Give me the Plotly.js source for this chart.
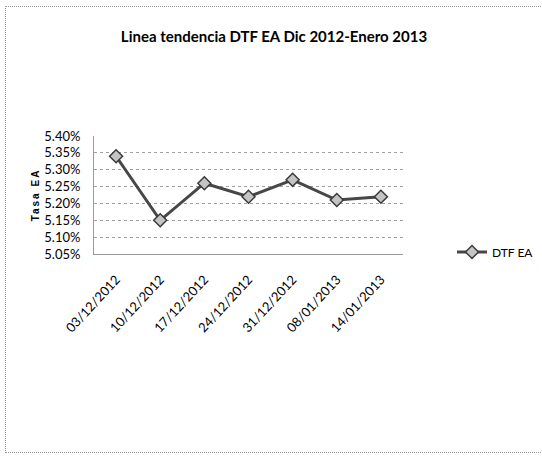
<!DOCTYPE html>
<html><head><meta charset="utf-8">
<script src="https://cdn.plot.ly/plotly-3.0.1.min.js"></script>
<style>
html,body{margin:0;padding:0;background:#fff;}
#frame{position:absolute;left:5px;top:6px;width:540px;height:447px;border:1px dotted #999;border-right:none;box-sizing:border-box;pointer-events:none;z-index:5;}
#chart{width:542px;height:456px;}
.ytitle{letter-spacing:2px;}
</style>
</head><body>
<div id="frame"></div>
<div id="chart"></div>
<script>
const categories = ["03/12/2012","10/12/2012","17/12/2012","24/12/2012","31/12/2012","08/01/2013","14/01/2013"];
const dtfEA = [0.0534, 0.0515, 0.0526, 0.0522, 0.0527, 0.0521, 0.0522];
const seriesName = "DTF EA";

const fontFam = "Lato, 'Open Sans', sans-serif";
const trace = {
  x: categories, y: dtfEA, name: seriesName, type: 'scatter', mode: 'lines+markers',
  line: {color: '#474747', width: 3},
  marker: {symbol: 'diamond', size: 10, color: '#c4c4c4', line: {color: '#3a3a3a', width: 1.5}},
  showlegend: true
};
const layout = {
  width: 542, height: 456,
  margin: {l: 94, r: 139, t: 136, b: 202, autoexpand: false},
  paper_bgcolor: '#fff', plot_bgcolor: '#fff',
  title: {text: 'Linea tendencia DTF EA Dic 2012-Enero 2013', x: 274/542, xref: 'container', xanchor: 'center', y: 1 - 37/456, yref: 'container', yanchor: 'middle',
          font: {family: fontFam, size: 15, color: '#000', weight: 'bold'}},
  xaxis: {type: 'category', range: [-0.5, 6.5], tickangle: -47, showgrid: false,
          showline: true, linecolor: '#9a9a9a', linewidth: 1, ticks: '', ticklabelstandoff: 12,
          tickfont: {family: fontFam, size: 13, color: '#000'}, zeroline: false},
  yaxis: {range: [0.0505, 0.054], dtick: 0.0005, tick0: 0.0505, tickformat: '.2%',
          showgrid: true, gridcolor: '#a0a0a0', griddash: 'dot', gridwidth: 1,
          showline: true, linecolor: '#9a9a9a', linewidth: 1, ticks: '', ticklabelstandoff: 10,
          zeroline: false, tickfont: {family: fontFam, size: 13, color: '#000'},
          title: {text: 'Tasa EA', standoff: 2, font: {family: "'Liberation Sans', Arial, sans-serif", size: 10, color: '#000', weight: 'bold'}}},
  legend: {x: (452-94)/309, y: 2/118, xanchor: 'left', yanchor: 'middle', yref: 'paper',
           font: {family: fontFam, size: 12, color: '#000'}, bgcolor: 'rgba(0,0,0,0)', itemwidth: 30},
  showlegend: true
};
Plotly.newPlot('chart', [trace], layout, {staticPlot: true, displayModeBar: false});
</script>
</body></html>
